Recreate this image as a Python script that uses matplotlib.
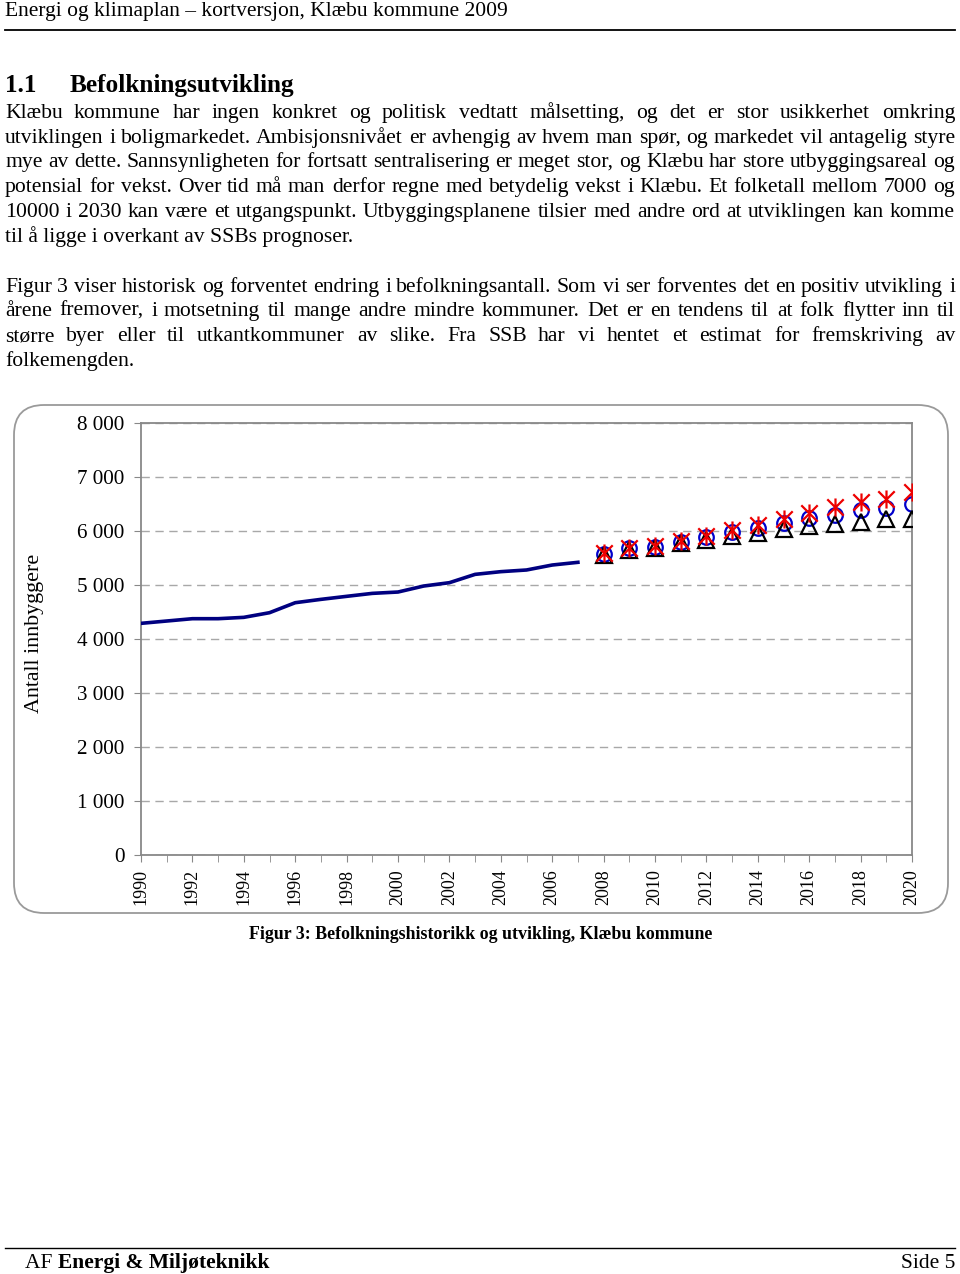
import matplotlib
matplotlib.use('Agg')
import matplotlib.pyplot as plt
import matplotlib.patches as mpatches
from matplotlib.path import Path
import matplotlib.ticker as mticker

W, H = 960, 1274
SERIF = ['Liberation Serif', 'DejaVu Serif']

# ---------------- data ----------------
hist_years = list(range(1990, 2008))
hist_pop = [4290, 4333, 4376, 4376, 4401, 4487, 4672, 4734, 4790, 4845,
            4870, 4981, 5043, 5197, 5247, 5278, 5370, 5420]
proj_years = list(range(2008, 2021))
proj_circle = [5570, 5680, 5710, 5790, 5890, 5985, 6050, 6150, 6235, 6300, 6380, 6430, 6505]
proj_triangle = [5550, 5650, 5690, 5770, 5830, 5900, 5957, 6043, 6095, 6133, 6163, 6213, 6225]
proj_star = [5590, 5690, 5720, 5810, 5910, 6020, 6110, 6220, 6335, 6440, 6540, 6600, 6720]
y_ticks = [0, 1000, 2000, 3000, 4000, 5000, 6000, 7000, 8000]
x_label_years = list(range(1990, 2021, 2))
x_minor_years = list(range(1990, 2021))

header = "Energi og klimaplan \u2013 kortversjon, Klæbu kommune 2009"
section_no = "1.1"
section_title = "Befolkningsutvikling"
para1 = [
    ("Klæbu kommune har ingen konkret og politisk vedtatt målsetting, og det er stor usikkerhet omkring", True),
    ("utviklingen i boligmarkedet. Ambisjonsnivået er avhengig av hvem man spør, og markedet vil antagelig styre", True),
    ("mye av dette. Sannsynligheten for fortsatt sentralisering er meget stor, og Klæbu har store utbyggingsareal og", True),
    ("potensial for vekst. Over tid må man derfor regne med betydelig vekst i Klæbu. Et folketall mellom 7000 og", True),
    ("10000 i 2030 kan være et utgangspunkt. Utbyggingsplanene tilsier med andre ord at utviklingen kan komme", True),
    ("til å ligge i overkant av SSBs prognoser.", False),
]
para2 = [
    ("Figur 3 viser historisk og forventet endring i befolkningsantall. Som vi ser forventes det en positiv utvikling i", True),
    ("årene fremover, i motsetning til mange andre mindre kommuner. Det er en tendens til at folk flytter inn til", True),
    ("større byer eller til utkantkommuner av slike. Fra SSB har vi hentet et estimat for fremskriving av", True),
    ("folkemengden.", False),
]
y_label = "Antall innbyggere"
caption = "Figur 3: Befolkningshistorikk og utvikling, Klæbu kommune"
footer_left_a = "AF "
footer_left_b = "Energi & Miljøteknikk"
footer_right = "Side 5"

# ---------------- figure ----------------
fig = plt.figure(figsize=(W / 100, H / 100), dpi=100)
fig.patch.set_facecolor('white')
renderer = fig.canvas.get_renderer()


def fx(x):
    return x / W


def fy(y):
    return 1 - y / H


def draw_line(text, base_y, justify, size, x0=5, x1=955, weight='normal'):
    base_y = round(base_y)
    if not justify:
        fig.text(fx(x0), fy(base_y), text, fontsize=size, family=SERIF,
                 weight=weight, va='baseline', ha='left')
        return
    words = text.split(' ')
    arts = [fig.text(0, 0, w, fontsize=size, family=SERIF, weight=weight,
                     va='baseline', ha='left') for w in words]
    widths = [a.get_window_extent(renderer).width for a in arts]
    gap = (x1 - x0 - sum(widths)) / (len(words) - 1)
    x = x0
    for a, w in zip(arts, widths):
        a.set_position((fx(round(x)), fy(base_y)))
        x += w + gap


# header
fig.text(fx(5), fy(16), header, fontsize=15.5, family=SERIF, va='baseline', ha='left')
fig.add_artist(plt.Line2D([fx(5), fx(955)], [fy(29.5), fy(29.5)], color='black', lw=1.3))

# section heading
fig.text(fx(5), fy(92), section_no, fontsize=18.2, family=SERIF, weight='bold', va='baseline')
fig.text(fx(70), fy(92), section_title, fontsize=18.2, family=SERIF, weight='bold', va='baseline')

BODY = 15.6
LS = 24.7
for i, (t, j) in enumerate(para1):
    draw_line(t, 118 + i * LS, j, BODY)
for i, (t, j) in enumerate(para2):
    draw_line(t, 291.5 + i * LS, j, BODY)

# rounded chart frame (in inches)
frame = mpatches.FancyBboxPatch((14 / 100, (H - 913) / 100), (948 - 14) / 100, (913 - 405) / 100,
                                boxstyle="round,pad=0,rounding_size=0.3",
                                transform=fig.dpi_scale_trans, fill=False,
                                edgecolor='#9a9a9a', lw=1.3)
fig.add_artist(frame)

# ---------------- chart ----------------
ax = fig.add_axes([fx(141), fy(855), (912 - 141) / W, (855 - 423) / H])
ax.set_xlim(1990, 2020)
ax.set_ylim(0, 8000)

ax.plot(hist_years, hist_pop, color='#000080', lw=2.6, solid_joinstyle='round', zorder=3)

star = Path([(-1, -1), (1, 1), (-1, 1), (1, -1), (0, -1.1), (0, 1.1)],
            [Path.MOVETO, Path.LINETO, Path.MOVETO, Path.LINETO, Path.MOVETO, Path.LINETO])

ax.plot(proj_years, proj_circle, ls='none', marker='o', ms=10.5, mfc='none',
        mec='#0000cc', mew=1.6, zorder=4)
ax.plot(proj_years, proj_triangle, ls='none', marker='^', ms=11.5, mfc='none',
        mec='black', mew=1.6, zorder=4)
ax.plot(proj_years, proj_star, ls='none', marker=star, ms=13, mfc='none',
        mec='#ee0000', mew=1.6, zorder=5)

for s in ax.spines.values():
    s.set_color('#888888')
    s.set_linewidth(1.3)

ax.set_yticks(y_ticks)
ax.yaxis.set_major_formatter(mticker.FuncFormatter(lambda v, p: f"{int(v):,}".replace(',', ' ')))
ax.grid(axis='y', color='#a8a8a8', ls=(0, (6, 4)), lw=1.0)
ax.set_axisbelow(True)

ax.set_xticks(x_label_years)
ax.set_xticks(x_minor_years, minor=True)
ax.set_xticklabels([str(y) for y in x_label_years], rotation=90, fontsize=13, family=SERIF)
for lab in ax.get_yticklabels():
    lab.set_family(SERIF)
    lab.set_fontsize(15.2)
ax.tick_params(axis='y', which='major', length=5, color='#888888', direction='out', pad=7)
ax.tick_params(axis='x', which='both', length=5, color='#888888', direction='out', pad=5)

fig.text(fx(35), fy(633), y_label, rotation=90, fontsize=15.8, family=SERIF,
         ha='center', va='center')

# caption
fig.text(fx(481), fy(939), caption, fontsize=12.9, family=SERIF, weight='bold',
         ha='center', va='baseline')

# footer
fig.add_artist(plt.Line2D([fx(5), fx(955)], [fy(1247.5), fy(1247.5)], color='black', lw=1.0))
ta = fig.text(fx(25), fy(1268), footer_left_a, fontsize=15.5, family=SERIF, va='baseline')
wa = ta.get_window_extent(renderer).width
fig.text(fx(25 + wa), fy(1268), footer_left_b, fontsize=15.5, family=SERIF, weight='bold', va='baseline')
fig.text(fx(955), fy(1268), footer_right, fontsize=15.5, family=SERIF, va='baseline', ha='right')

fig.savefig('out.png', dpi=100, facecolor='white')
